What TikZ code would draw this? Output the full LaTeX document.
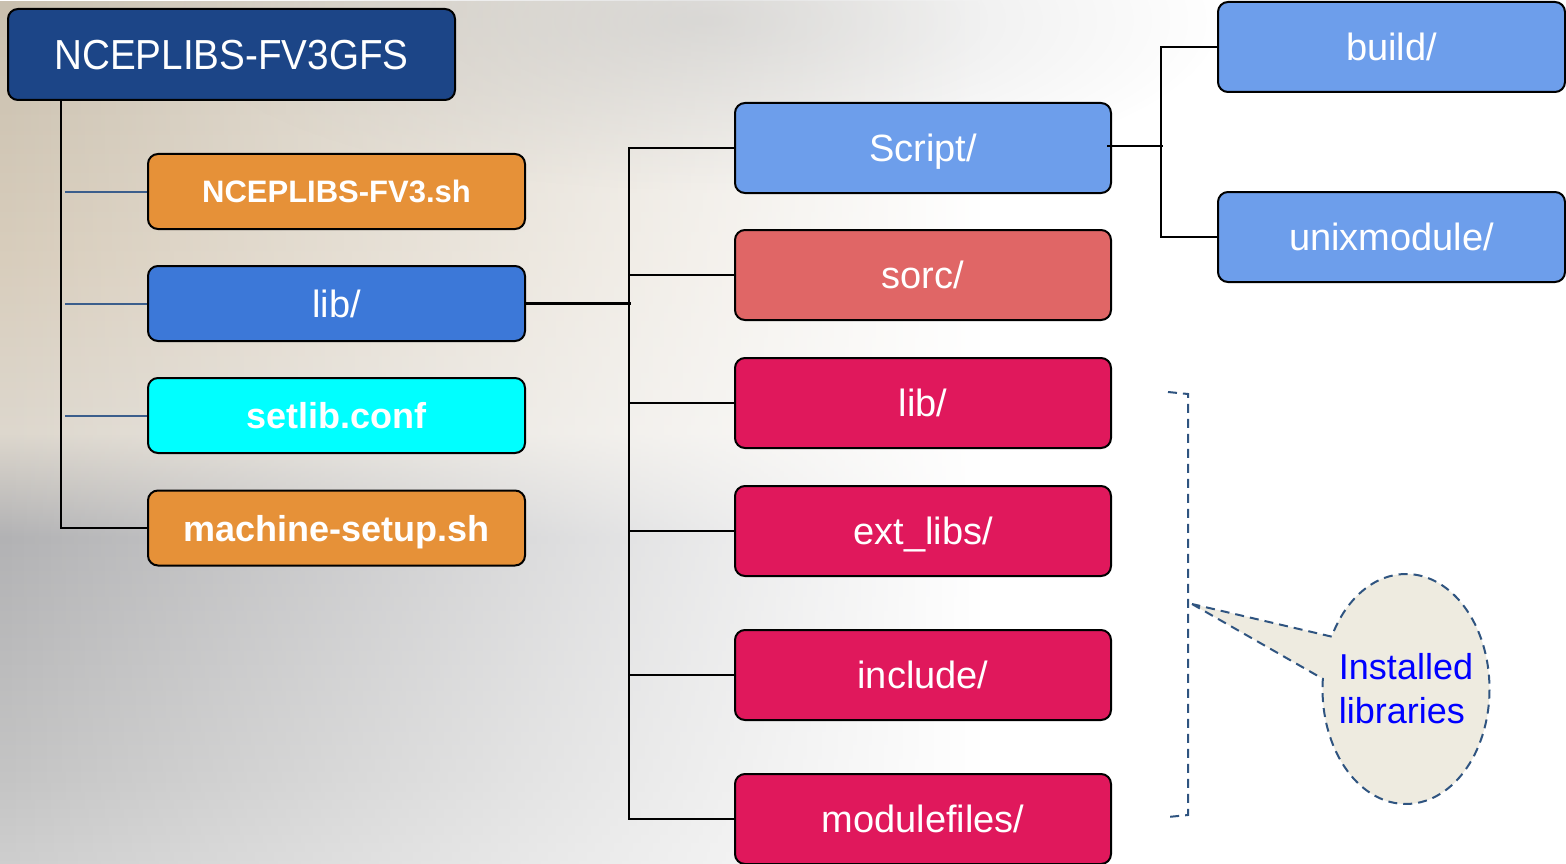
\documentclass[tikz,border=0pt]{standalone}
\usepackage{fontspec}
\setmainfont{Liberation Sans}
\newfontfamily\narrowfont[FakeStretch=0.92]{Liberation Sans}
\usetikzlibrary{shapes.callouts,fadings}
\definecolor{rootblue}{HTML}{1C4587}
\definecolor{orng}{HTML}{E69138}
\definecolor{midblue}{HTML}{3C78D8}
\definecolor{ltblue}{HTML}{6D9EEB}
\definecolor{sorcred}{HTML}{E06666}
\definecolor{crimson}{HTML}{E0185C}
\definecolor{aqua}{HTML}{00FFFF}
\definecolor{twigblue}{HTML}{3B5E8C}
\definecolor{dashcol}{HTML}{2F5480}
\definecolor{callfill}{HTML}{EEEBE0}
\definecolor{sa}{HTML}{8A8B90}
\definecolor{sb}{HTML}{9E9EA0}
\definecolor{sc}{HTML}{C6BDAC}
\definecolor{sd}{HTML}{D8CDBC}
\definecolor{se}{HTML}{DDD7CD}
\definecolor{sf}{HTML}{B2B2B4}
\definecolor{sg}{HTML}{C4C4C4}
\definecolor{sh}{HTML}{E2E2E2}
\definecolor{si}{HTML}{F6F6F6}
\pgfdeclareverticalshading{skyL}{100bp}{color(0bp)=(si); color(15bp)=(sh); color(30bp)=(sg); color(44bp)=(sf); color(50bp)=(se); color(60bp)=(sd); color(78bp)=(sc); color(88bp)=(sb); color(100bp)=(sa)}
\tikzfading[name=fadeR, left color=transparent!0, middle color=transparent!30, right color=transparent!100]
\tikzfading[name=softblob, inner color=transparent!55, outer color=transparent!100]
\tikzset{
  box/.style={draw=black, line width=2pt, rounded corners=10pt, text=white, inner sep=0pt, text depth=0pt},
  lbox/.style={box, minimum width=377pt, minimum height=75pt},
  rbox/.style={box, minimum width=376pt, minimum height=90pt, font=\fontsize{38}{44}\selectfont, text height=27pt},
  trunk/.style={black, line width=2.2pt},
  twig/.style={twigblue, line width=2pt},
  dashline/.style={dashcol, dash pattern=on 9pt off 6pt, line width=2pt}
}
\begin{document}
\begin{tikzpicture}[x=1pt,y=-1pt]
\useasboundingbox (0,0) rectangle (1566,864);
\fill[white] (0,0) rectangle (1566,864);
\shade[shading=skyL, path fading=fadeR] (0,0) rectangle (980,864);
\fill[gray!50, path fading=softblob] (700,20) ellipse [x radius=520, y radius=170];
% root
\node[box, fill=rootblue, minimum width=447pt, minimum height=91pt, text height=30pt, font=\narrowfont\fontsize{42}{48}\selectfont] (root) at (231.5,54.5) {NCEPLIBS-FV3GFS};
% left column
\node[lbox, fill=orng, text height=22pt, font=\fontsize{31}{36}\selectfont\bfseries] (fv3sh) at (336.5,191.5) {NCEPLIBS-FV3.sh};
\node[lbox, fill=midblue, text height=27pt, font=\fontsize{38}{44}\selectfont] (libL) at (336.5,303.5) {lib/};
\node[lbox, fill=aqua, text height=26pt, font=\fontsize{36}{42}\selectfont\bfseries] (setlib) at (336.5,415.5) {setlib.conf};
\node[lbox, fill=orng, text height=26pt, font=\fontsize{36}{42}\selectfont\bfseries] (mach) at (336.5,528) {machine-setup.sh};
% middle column
\node[rbox, fill=ltblue] (script) at (923,148) {Script/};
\node[rbox, fill=sorcred] (sorc) at (923,275) {sorc/};
\node[rbox, fill=crimson] (libR) at (923,403) {lib/};
\node[rbox, fill=crimson] (ext) at (923,531) {ext\_libs/};
\node[rbox, fill=crimson] (incl) at (923,675) {include/};
\node[rbox, fill=crimson] (modf) at (923,819) {modulefiles/};
% right column
\node[rbox, fill=ltblue, minimum width=347pt] (build) at (1391.5,47) {build/};
\node[rbox, fill=ltblue, minimum width=347pt] (unix) at (1391.5,237) {unixmodule/};
% connectors left
\draw[trunk] ([xshift=54pt]root.south west) |- (mach.west);
\draw[twig] (fv3sh.west) -- ++(-82pt,0);
\draw[twig] (libL.west) -- ++(-82pt,0);
\draw[twig] (setlib.west) -- ++(-82pt,0);
% connectors middle
\draw[trunk] (libL.east) -- ++(105pt,0);
\draw[trunk] (script.west) -- ++(-105pt,0) |- (modf.west);
\draw[trunk] (sorc.west) -- ++(-105pt,0);
\draw[trunk] (libR.west) -- ++(-105pt,0);
\draw[trunk] (ext.west) -- ++(-105pt,0);
\draw[trunk] (incl.west) -- ++(-105pt,0);
% connectors right
\draw[trunk] ([xshift=-5pt,yshift=2pt]script.east) -- ++(56pt,0);
\draw[trunk] (build.west) -- ++(-56pt,0) |- (unix.west);
% bracket
\coordinate (b1) at (1168,392);
\coordinate (b2) at (1188,394);
\coordinate (b3) at (1188,815);
\coordinate (b4) at (1168,817);
\draw[dashline] (b1) -- (b2) -- (b3) -- (b4);
% callout
\coordinate (ptip) at (1192,604);
\node[ellipse callout, draw=dashcol, dash pattern=on 9pt off 6pt, line width=2pt, fill=callfill,
  minimum width=167pt, minimum height=230pt, inner sep=0pt,
  callout absolute pointer={(ptip)}, callout pointer arc=22] (call) at (1406,689) {};
\node[align=left, text=blue, font=\fontsize{36}{44}\selectfont, inner sep=0pt] (calltext) at (call.center) {Installed\\libraries};
\end{tikzpicture}
\end{document}
